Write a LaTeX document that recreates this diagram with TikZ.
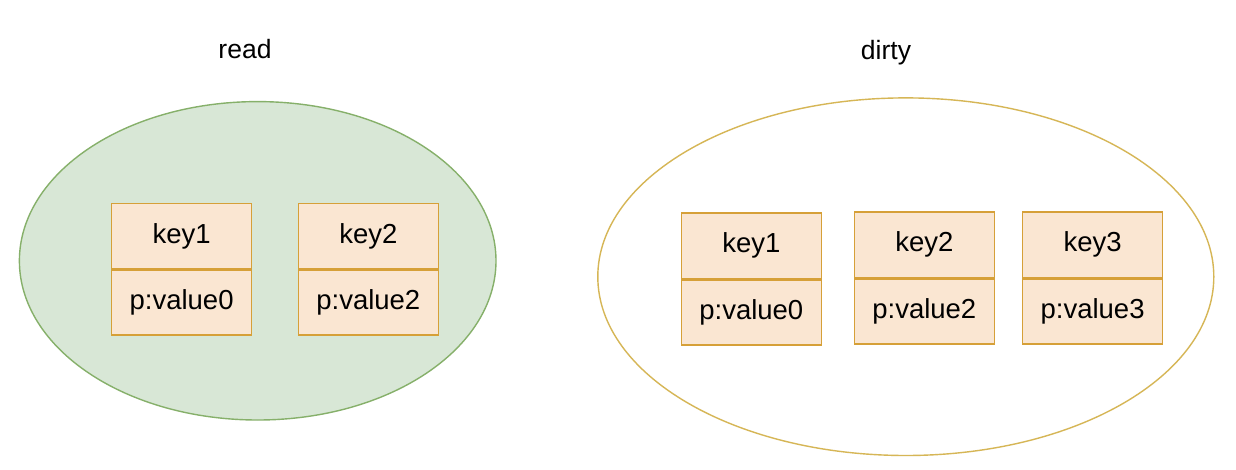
\documentclass[tikz,border=0pt]{standalone}
\usepackage{fontspec}
\setmainfont{Liberation Sans}
\definecolor{cellfill}{HTML}{FAE6D2}
\definecolor{celldraw}{HTML}{D6A038}
\definecolor{greenfill}{HTML}{D8E7D6}
\definecolor{greendraw}{HTML}{86B06A}
\definecolor{yellowdraw}{HTML}{D6B656}
\tikzset{
  cell/.style={draw=celldraw, fill=cellfill, line width=1.6pt, minimum width=140pt, minimum height=65pt, inner sep=0pt, font=\fontsize{27.5}{32}\selectfont},
  title/.style={font=\fontsize{26.5}{30}\selectfont, inner sep=0pt},
}
\begin{document}
\begin{tikzpicture}[x=1pt,y=-1pt]
\useasboundingbox[fill=white] (0,0) rectangle (1236,470);
% ellipses
\draw[draw=greendraw, fill=greenfill, line width=1.4pt] (257.7,260.8) ellipse [x radius=238.3, y radius=159.2];
\draw[draw=yellowdraw, line width=1.4pt] (905.8,276.7) ellipse [x radius=308, y radius=178.8];
% titles
\node[title] (readlbl) at (245,49) {read};
\node[title] (dirtylbl) at (886,53) {dirty};
% read boxes
\node[cell, anchor=north west] (rk1) at (110.8,202.8) {key1};
\node[cell, anchor=north] (rv1) at (rk1.south) {p:value0};
\node[cell, anchor=north west] (rk2) at (297.5,202.8) {key2};
\node[cell, anchor=north] (rv2) at (rk2.south) {p:value2};
% dirty boxes
\node[cell, anchor=north west] (dk1) at (680.5,212.5) {key1};
\node[cell, anchor=north] (dv1) at (dk1.south) {p:value0};
\node[cell, anchor=north west] (dk2) at (853.5,211.5) {key2};
\node[cell, anchor=north] (dv2) at (dk2.south) {p:value2};
\node[cell, anchor=north west] (dk3) at (1021.8,211.5) {key3};
\node[cell, anchor=north] (dv3) at (dk3.south) {p:value3};
\end{tikzpicture}
\end{document}
